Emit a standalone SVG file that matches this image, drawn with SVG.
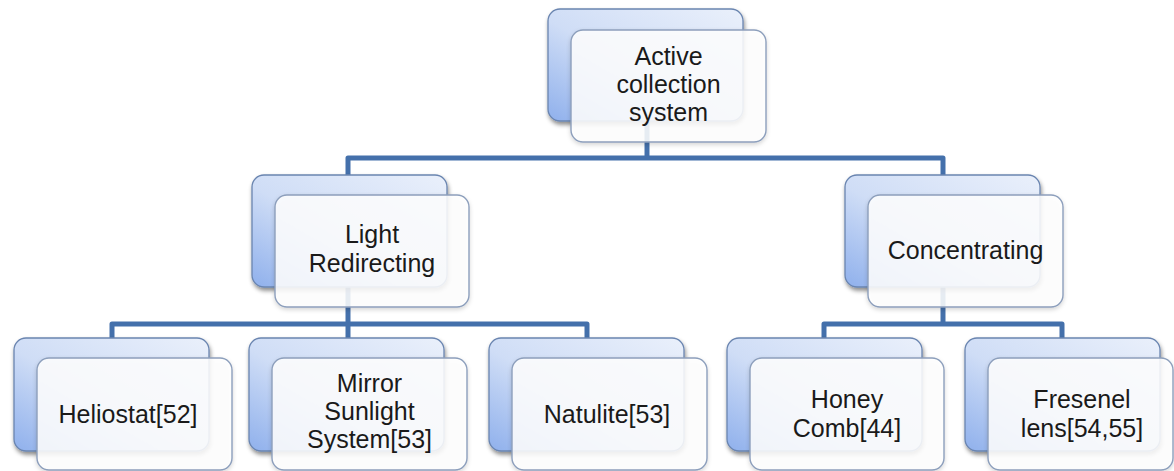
<svg xmlns="http://www.w3.org/2000/svg" width="1174" height="471" viewBox="0 0 1174 471">
  <defs>
    <linearGradient id="backFill" x1="1" y1="0" x2="0" y2="1">
      <stop offset="0" stop-color="#eaf0fb"/>
      <stop offset="0.55" stop-color="#cfddf6"/>
      <stop offset="1" stop-color="#8fb0ec"/>
    </linearGradient>
    <filter id="shadow" x="-10%" y="-10%" width="125%" height="130%">
      <feDropShadow dx="1" dy="3" stdDeviation="2.2" flood-color="#000" flood-opacity="0.45"/>
    </filter>
    <filter id="softShadow" x="-10%" y="-10%" width="125%" height="130%">
      <feDropShadow dx="0" dy="2" stdDeviation="2" flood-color="#000" flood-opacity="0.18"/>
    </filter>
  </defs>
  <style>
    .back { fill: url(#backFill); stroke: #6a85b0; stroke-width: 1.3; filter: url(#shadow); }
    .front { fill: #ffffff; fill-opacity: 0.86; stroke: #8d9fbc; stroke-width: 1.4; filter: url(#softShadow); }
    .label { font-family: "Liberation Sans", Arial, sans-serif; font-size: 25px; fill: #1a1a1a; text-anchor: middle; }
    .conn { fill: none; stroke: #4470ab; stroke-width: 5; stroke-linejoin: round; }
  </style>
  <rect width="1174" height="471" fill="#ffffff"/>

  <!-- tree connectors, drawn under the node cards -->
  <g id="connectors">
    <path class="conn" d="M647 121 V158"/>
    <path class="conn" d="M348 175 V158 H943 V175"/>
    <path class="conn" d="M348 287 V324"/>
    <path class="conn" d="M112 339 V324 H587 V339"/>
    <path class="conn" d="M348 324 V339"/>
    <path class="conn" d="M943 287 V324"/>
    <path class="conn" d="M824 339 V324 H1062 V339"/>
  </g>

  <g id="node-active">
    <rect class="back" x="548" y="9" width="195" height="112" rx="12"/>
    <rect class="front" x="571" y="30" width="195" height="112" rx="12"/>
    <text class="label" x="668.5" y="65">Active</text>
    <text class="label" x="668.5" y="93">collection</text>
    <text class="label" x="668.5" y="121">system</text>
  </g>

  <g id="node-light">
    <rect class="back" x="252" y="175" width="195" height="112" rx="12"/>
    <rect class="front" x="275" y="195" width="194" height="112" rx="12"/>
    <text class="label" x="372" y="243">Light</text>
    <text class="label" x="372" y="272">Redirecting</text>
  </g>

  <g id="node-concentrating">
    <rect class="back" x="845" y="175" width="195" height="112" rx="12"/>
    <rect class="front" x="868" y="195" width="195" height="112" rx="12"/>
    <text class="label" x="965.5" y="259">Concentrating</text>
  </g>

  <g id="node-heliostat">
    <rect class="back" x="14" y="338" width="195" height="113" rx="12"/>
    <rect class="front" x="37" y="358" width="195" height="112" rx="12"/>
    <text class="label" x="128" y="423">Heliostat[52]</text>
  </g>

  <g id="node-mirror">
    <rect class="back" x="249" y="338" width="195" height="113" rx="12"/>
    <rect class="front" x="272" y="358" width="195" height="112" rx="12"/>
    <text class="label" x="369.5" y="392">Mirror</text>
    <text class="label" x="369.5" y="420">Sunlight</text>
    <text class="label" x="369.5" y="448">System[53]</text>
  </g>

  <g id="node-natulite">
    <rect class="back" x="489" y="338" width="195" height="113" rx="12"/>
    <rect class="front" x="512" y="358" width="195" height="112" rx="12"/>
    <text class="label" x="607" y="423">Natulite[53]</text>
  </g>

  <g id="node-honeycomb">
    <rect class="back" x="727" y="338" width="195" height="113" rx="12"/>
    <rect class="front" x="750" y="358" width="194" height="112" rx="12"/>
    <text class="label" x="847" y="408">Honey</text>
    <text class="label" x="847" y="437">Comb[44]</text>
  </g>

  <g id="node-fresenel">
    <rect class="back" x="965" y="338" width="195" height="113" rx="12"/>
    <rect class="front" x="988" y="358" width="185" height="112" rx="12"/>
    <text class="label" x="1082" y="408">Fresenel</text>
    <text class="label" x="1082" y="437">lens[54,55]</text>
  </g>
</svg>
